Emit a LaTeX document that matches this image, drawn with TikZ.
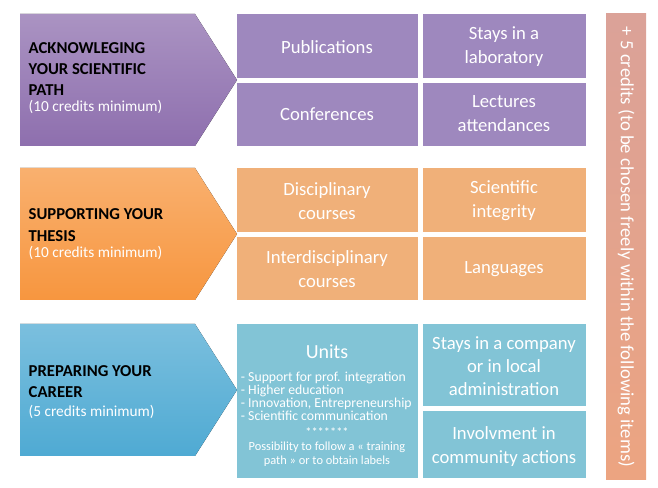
\documentclass[tikz,border=0pt]{standalone}
\usepackage{fontspec}
\setmainfont{Carlito}
\begin{document}
\begin{tikzpicture}[x=0.75pt,y=-0.75pt,
 cell/.style={text=white,font=\fontsize{14}{18}\selectfont,align=center},
 arr/.style={top color=#1!75!white,bottom color=#1,draw=none},
 ttl/.style={anchor=west,align=left,font=\fontsize{12.5}{16}\selectfont\bfseries}]
\useasboundingbox (0,0) rectangle (658,488);
\definecolor{pu}{HTML}{9E88BE}\definecolor{pa}{HTML}{8E6FAE}
\definecolor{or}{HTML}{F0B079}\definecolor{oa}{HTML}{F7963F}
\definecolor{bl}{HTML}{82C4D6}\definecolor{ba}{HTML}{4FAAD3}
\definecolor{br}{HTML}{EAA88F}
% arrows
\fill[arr=pa] (20,14) -- (195,14) -- (237,80) -- (195,146) -- (20,146) -- cycle;
\fill[arr=oa] (20,168) -- (195,168) -- (237,234) -- (195,300) -- (20,300) -- cycle;
\fill[arr=ba] (20,324) -- (195,324) -- (237,390) -- (195,456) -- (20,456) -- cycle;
\node[ttl] (t1) at (24,78) {ACKNOWLEGING\\YOUR SCIENTIFIC\\PATH\\[-4pt]{\normalfont\fontsize{11.5}{14}\selectfont\color{white}(10 credits minimum)}};
\node[ttl] (t2) at (24,234) {SUPPORTING YOUR\\THESIS\\[-4pt]{\normalfont\fontsize{11.5}{14}\selectfont\color{white}(10 credits minimum)}};
\node[ttl] (t3) at (24,392) {PREPARING YOUR\\CAREER\\[-2pt]{\normalfont\fontsize{11.5}{14}\selectfont\color{white}(5 credits minimum)}};
% purple cells
\fill[pu] (237,14) rectangle (418,78); \node[cell] (a) at (327,47) {Publications};
\fill[pu] (423,14) rectangle (586,78); \node[cell] (b) at (504,47) {Stays in a\\laboratory};
\fill[pu] (237,83) rectangle (418,146); \node[cell] (c) at (327,114) {Conferences};
\fill[pu] (423,83) rectangle (586,146); \node[cell] (d) at (504,114) {Lectures\\attendances};
% orange
\fill[or] (237,168) rectangle (418,232); \node[cell] (e) at (327,201) {Disciplinary\\courses};
\fill[or] (423,168) rectangle (586,232); \node[cell] (f) at (504,201) {Scientific\\integrity};
\fill[or] (237,237) rectangle (418,300); \node[cell] (g) at (327,269) {Interdisciplinary\\courses};
\fill[or] (423,237) rectangle (586,300); \node[cell] (h) at (504,269) {Languages};
% blue
\fill[bl] (237,324) rectangle (418,478);
\node[cell,font=\fontsize{15}{18}\selectfont] (u) at (327,352) {Units};
\node[text=white,align=left,font=\fontsize{10.3}{9.75}\selectfont,anchor=north west,inner sep=2pt] (ul) at (238,369) {- Support for prof. integration\\- Higher education\\- Innovation, Entrepreneurship\\- Scientific communication};
\node[text=white,align=center,font=\fontsize{9.3}{10.5}\selectfont,anchor=north,inner sep=1pt] (up) at (327,426) {*******\\Possibility to follow a « training\\path » or to obtain labels};
\fill[bl] (423,324) rectangle (586,406); \node[cell,font=\fontsize{14}{17}\selectfont] (i) at (504,366) {Stays in a company\\or in local\\administration};
\fill[bl] (423,411) rectangle (586,478); \node[cell] (j) at (504,447) {Involvment in\\community actions};
% side bar
\shade[top color=br!80!pu,bottom color=br!90!orange] (606,14) rectangle (646,480);
\node[rotate=-90,text=white,font=\fontsize{14}{16}\selectfont] (s) at (626,247) {+ 5 credits (to be chosen freely within the following items)};
\end{tikzpicture}
\end{document}
